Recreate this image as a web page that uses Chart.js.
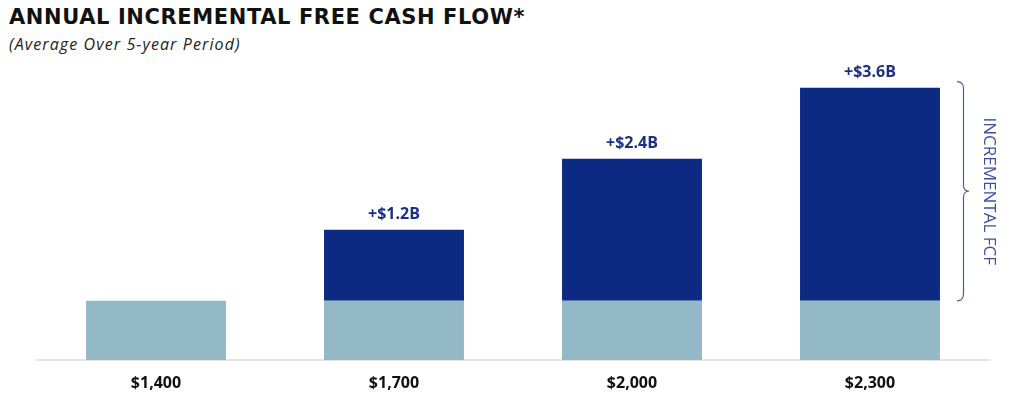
<!DOCTYPE html>
<html>
<head>
<meta charset="utf-8">
<script src="https://cdn.jsdelivr.net/npm/chart.js@4"></script>
<style>
  html, body { margin: 0; padding: 0; background: #fff; }
  #wrap { position: relative; width: 1024px; height: 399px; }
  #title { position: absolute; left: 9px; top: 5px; font: bold 21px "DejaVu Sans", sans-serif; letter-spacing: 0.6px; color: #111; }
  #sub { position: absolute; left: 9px; top: 33px; font: italic 16px "Open Sans", sans-serif; letter-spacing: 1.1px; color: #222; }
  canvas { position: absolute; left: 0; top: 0; }
</style>
</head>
<body>
<div id="wrap">
  <div id="title">ANNUAL INCREMENTAL FREE CASH FLOW*</div>
  <div id="sub">(Average Over 5-year Period)</div>
  <canvas id="chart" width="1024" height="399"></canvas>
</div>
<script>
// categories and values ($B)
const categories = ['$1,400', '$1,700', '$2,000', '$2,300'];
const baseValues = [1.0, 1.0, 1.0, 1.0];
const incrementalValues = [0, 1.2, 2.4, 3.6];
const incrementLabels = ['', '+$1.2B', '+$2.4B', '+$3.6B'];

const baseColor = '#93b9c6';
const navy = '#0d2a83';

// value labels above the navy bars, plus the brace on the right
const annotate = {
    id: 'annotate',
    afterDatasetsDraw(chart) {
        const ctx = chart.ctx;
        const meta = chart.getDatasetMeta(1);
        ctx.save();
        ctx.fillStyle = '#1b2f86';
        ctx.font = 'bold 16px "Open Sans", sans-serif';
        ctx.textAlign = 'center';
        ctx.textBaseline = 'middle';
        meta.data.forEach((bar, i) => {
            if (!incrementLabels[i]) return;
            ctx.fillText(incrementLabels[i], bar.x, bar.y - 15);
        });

        // curly brace spanning the incremental part of the last bar
        const y = chart.scales.y;
        const last = incrementalValues.length - 1;
        const top = y.getPixelForValue(baseValues[last] + incrementalValues[last]) - 6;
        const bot = y.getPixelForValue(baseValues[last]);
        const mid = (top + bot) / 2;
        const x0 = 957, x1 = 963.5, x2 = 969;
        ctx.strokeStyle = '#4a5ba6';
        ctx.lineWidth = 1.2;
        ctx.beginPath();
        ctx.moveTo(x0, top);
        ctx.quadraticCurveTo(x1, top, x1, top + 7);
        ctx.lineTo(x1, mid - 6);
        ctx.quadraticCurveTo(x1, mid, x2, mid);
        ctx.quadraticCurveTo(x1, mid, x1, mid + 6);
        ctx.lineTo(x1, bot - 7);
        ctx.quadraticCurveTo(x1, bot, x0, bot);
        ctx.stroke();

        ctx.translate(989, mid);
        ctx.rotate(Math.PI / 2);
        ctx.fillStyle = '#3d4f9f';
        ctx.font = '17px "Open Sans", sans-serif';
        ctx.fillText('INCREMENTAL FCF', 0, 0);
        ctx.restore();
    }
};

new Chart(document.getElementById('chart'), {
    type: 'bar',
    data: {
        labels: categories,
        datasets: [{
            label: 'Base',
            data: baseValues,
            backgroundColor: baseColor,
            categoryPercentage: 1,
            barPercentage: 0.588
        }, {
            label: 'Incremental FCF',
            data: incrementalValues,
            backgroundColor: navy,
            categoryPercentage: 1,
            barPercentage: 0.588
        }]
    },
    options: {
        responsive: false,
        animation: false,
        layout: { padding: { left: 37, right: 35, top: 64, bottom: 0 } },
        plugins: {
            legend: { display: false },
            tooltip: { enabled: false }
        },
        scales: {
            x: {
                stacked: true,
                afterFit: s => { s.height = 39; },
                grid: { display: false, drawTicks: false },
                border: { display: true, color: '#e4e4e4', width: 2 },
                ticks: {
                    padding: 14,
                    color: '#111',
                    font: { family: '"Open Sans", sans-serif', size: 16, weight: 'bold' }
                }
            },
            y: {
                stacked: true,
                display: false,
                min: 0,
                max: 5
            }
        }
    },
    plugins: [annotate]
});
</script>
</body>
</html>
